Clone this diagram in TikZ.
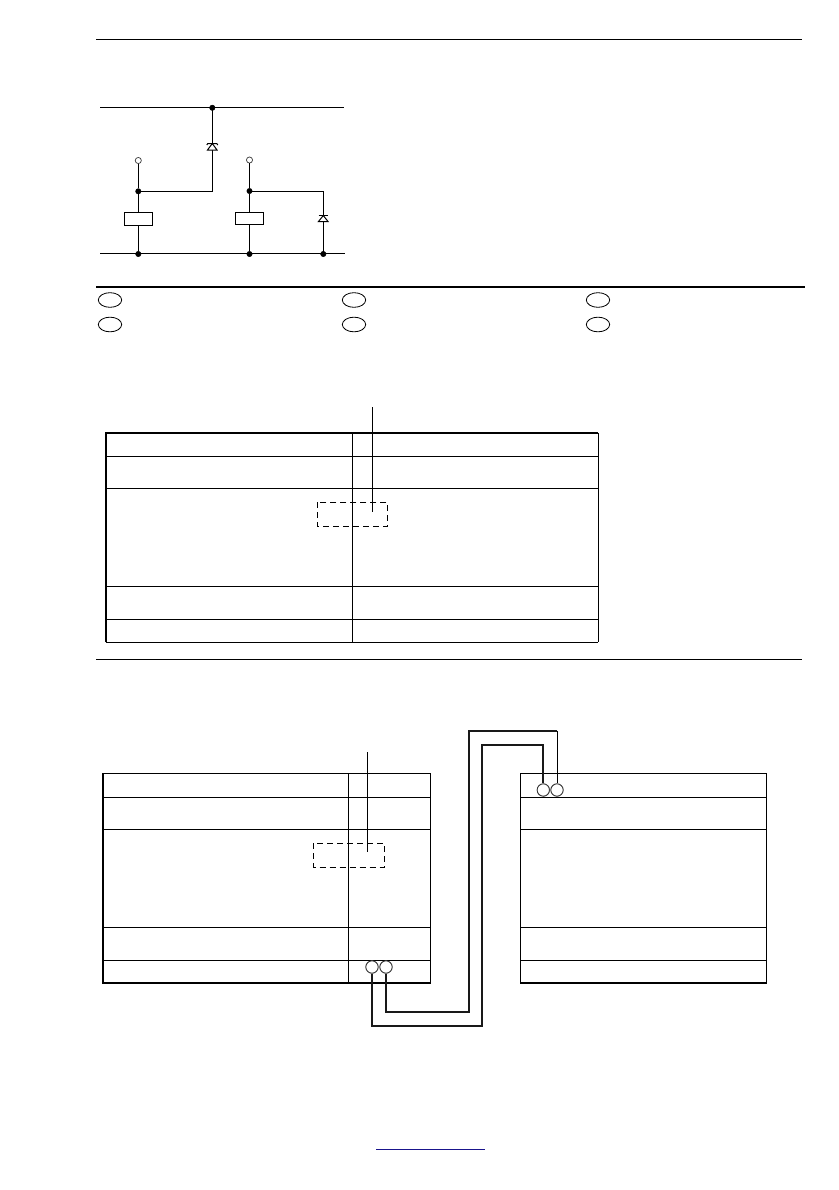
\documentclass[tikz,border=0pt]{standalone}
\tikzset{
  x=0.75pt,y=-0.75pt,
  wire/.style={line width=0.75pt,black},
  rule/.style={line width=0.75pt,black},
  thick rule/.style={line width=1.5pt,black},
  grid/.style={line width=0.75pt,black},
  cable/.style={line width=1.5pt,black!90},
  dashbox/.style={line width=0.75pt,dash pattern=on 4.5pt off 3pt,black},
  dotnode/.style={circle,fill=black,draw=black,inner sep=0pt,minimum size=4pt},
  opennode/.style={circle,fill=white,draw=black!80,line width=0.5pt,inner sep=0pt,minimum size=4.6pt},
  term/.style={circle,fill=white,draw=black!80,line width=0.6pt,inner sep=0pt,minimum size=9.2pt},
  oval/.style={ellipse,draw=black,line width=0.6pt,inner sep=0pt,minimum width=17.5pt,minimum height=11pt},
  relay/.style={rectangle,draw=black,fill=white,line width=0.75pt,inner sep=0pt,minimum width=21pt,minimum height=10pt},
}
\usetikzlibrary{shapes.geometric}
\begin{document}
\begin{tikzpicture}
\useasboundingbox (0,0) rectangle (839,1190);
\fill[white] (0,0) rectangle (839,1190);
% page rules
\draw[rule] (96,39.7) -- (802,39.7);
\draw[thick rule] (96,287) -- (805,287);
\draw[rule] (96,659.6) -- (802,659.6);
% circuit
\coordinate (railTL) at (100,107.5);
\coordinate (railTR) at (344,107.5);
\coordinate (railBL) at (100,253.5);
\coordinate (railBR) at (345,253.5);
\draw[wire] (railTL) -- (railTR);
\draw[wire] (railBL) -- (railBR);
\node[dotnode] (dtop) at (212.3,107.8) {};
\node[opennode] (o1) at (138.3,160.5) {};
\node[opennode] (o2) at (249.5,160) {};
\node[dotnode] (d1) at (138.3,191.3) {};
\node[dotnode] (d2) at (249.5,191) {};
\node[relay] (r1) at (138.3,219) {};
\node[relay,minimum height=9.5pt] (r2) at (249.5,218.5) {};
\node[dotnode] (b1) at (138.3,254) {};
\node[dotnode] (b2) at (249.5,254) {};
\node[dotnode] (b3) at (323.3,254) {};
\coordinate (corner1) at (212.3,191.3);
\coordinate (corner2) at (323.3,191);
\draw[wire] (o1) -- (d1) -- (r1) -- (b1);
\draw[wire] (o2) -- (d2) -- (r2) -- (b2);
\draw[wire] (d1) -- (corner1) -- (dtop.center);
\draw[wire] (d2) -- (corner2) -- (b3.center);
% zener
\draw[wire,fill=white] (212.3,143.5) -- (207.5,150) -- (217,150) -- cycle;
\draw[wire] (206.8,145) -- (207.8,143.5) -- (216.8,143.5) -- (217.8,145);
% diode
\draw[wire,fill=white] (323.3,215.5) -- (318.5,221.5) -- (328,221.5) -- cycle;
\draw[wire] (318.5,215.5) -- (328,215.5);
% ovals
\node[oval] (k1) at (110,300) {};
\node[oval] (k2) at (110,324.5) {};
\node[oval] (k3) at (354,300) {};
\node[oval] (k4) at (354,324.5) {};
\node[oval] (k5) at (598,300) {};
\node[oval] (k6) at (598,324.5) {};
% table 1
\draw[grid] (106,456.5) -- (598,456.5);
\draw[grid] (106,488.5) -- (598,488.5);
\draw[grid] (106,586) -- (598,586);
\draw[grid] (106,619) -- (598,619);
\draw[grid] (598,433) -- (598,642);
\draw[grid] (352.5,433) -- (352.5,642);
\draw[thick rule] (598,433) -- (106,433) -- (106,642);
\draw[grid] (105.5,642) -- (598,642);
\node[draw=none,inner sep=0pt,minimum width=52.5pt,minimum height=17.6pt] (dash1) at (352.5,514.3) {};
\draw[dashbox] (dash1.north west) rectangle (dash1.south east);
\coordinate (p1a) at (372.5,407);
\coordinate (p1b) at (372.5,511.5);
\draw[wire] (p1a) -- (p1b);
% table 2 left
\draw[grid] (103,797) -- (431,797);
\draw[grid] (103,829) -- (431,829);
\draw[grid] (103,927) -- (431,927);
\draw[grid] (103,960.5) -- (431,960.5);
\draw[grid] (430.5,773) -- (430.5,983);
\draw[grid] (348.5,773) -- (348.5,983);
\draw[grid] (103,773) -- (430.5,773);
\draw[grid,line width=1.1pt] (103,773) -- (103,983) -- (430.5,983);
\node[draw=none,inner sep=0pt,minimum width=52.5pt,minimum height=17.6pt] (dash2) at (349,855) {};
\draw[dashbox] (dash2.north west) rectangle (dash2.south east);
\coordinate (p2a) at (367.5,752);
\coordinate (p2b) at (367.5,852);
\draw[wire] (p2a) -- (p2b);
% table 2 right
\draw[grid] (520.5,797) -- (766.5,797);
\draw[grid] (520.5,829) -- (766.5,829);
\draw[grid] (520.5,927) -- (766.5,927);
\draw[grid] (520.5,960.5) -- (766.5,960.5);
\draw[grid] (520.5,773) -- (766.5,773) -- (766.5,983);
\draw[grid,line width=1.1pt] (520.5,773) -- (520.5,983) -- (766.5,983);
% terminals
\node[term] (t1) at (372,967) {};
\node[term] (t2) at (386,967) {};
\node[term] (t3) at (543.3,790) {};
\node[term] (t4) at (557,790) {};
% cables
\coordinate (c1a) at (372,1025.5);
\coordinate (c1b) at (482,1025.5);
\coordinate (c1c) at (482,745);
\coordinate (c1d) at (543.3,745);
\coordinate (c2a) at (386,1012);
\coordinate (c2b) at (468.5,1012);
\coordinate (c2c) at (468.5,731);
\coordinate (c2d) at (557,731);
\draw[cable,line join=miter] (t1) -- (c1a) -- (c1b) -- (c1c) -- (c1d) -- (t3);
\draw[cable,line join=miter] (t2) -- (c2a) -- (c2b) -- (c2c) -- (c2d);
\draw[wire] (c2d) -- (t4);
% redraw terminals over cables' ends
\node[term] at (t1) {};
\node[term] at (t2) {};
\node[term] at (t3) {};
\node[term] at (t4) {};
% link underline
\coordinate (linkA) at (376,1149.3);
\coordinate (linkB) at (485,1149.3);
\definecolor{linkblue}{RGB}{25,20,140}
\draw[line width=0.8pt,color=linkblue] (linkA) -- (linkB);
\end{tikzpicture}
\end{document}
